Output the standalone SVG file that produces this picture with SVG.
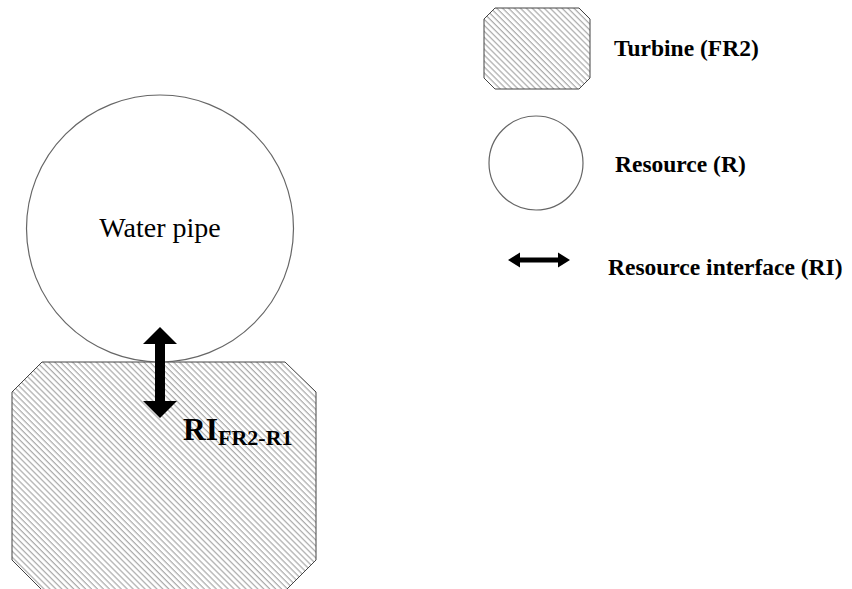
<svg xmlns="http://www.w3.org/2000/svg" width="852" height="589" viewBox="0 0 852 589">
  <defs>
    <pattern id="hatch" patternUnits="userSpaceOnUse" width="4.2" height="4.2" patternTransform="rotate(-45)">
      <line x1="1" y1="0" x2="1" y2="4.2" stroke="#8c8c8c" stroke-width="0.9"/>
    </pattern>
    <style>
      .turbine { fill: url(#hatch); stroke: #444; stroke-width: 1; }
      .res { fill: #fff; stroke: #666; stroke-width: 1.2; }
      .arrow { fill: #000; stroke: none; }
      .legend { font-family: "Liberation Serif", "Times New Roman", serif; font-weight: bold; font-size: 23.5px; fill: #000; }
      .lbl { font-family: "Liberation Serif", "Times New Roman", serif; fill: #000; }
    </style>
  </defs>
  <rect width="852" height="589" fill="#fff"/>

  <g id="turbine-fr2">
    <polygon class="turbine" points="42,362 285,362 316,392 316,560 286,590 42,590 12,560 12,392"/>
  </g>

  <g id="water-pipe">
    <circle class="res" cx="160" cy="228.5" r="133.5"/>
    <text class="lbl" x="160" y="237" font-size="28" text-anchor="middle">Water pipe</text>
  </g>

  <g id="connectors">
    <polygon class="arrow" points="160,327 177,344 165,344 165,401 177,401 160,418 143,401 155,401 155,344 143,344"/>
    <text class="lbl" x="183" y="440" font-size="31.5" font-weight="bold">RI<tspan font-size="22" dy="5">FR2-R1</tspan></text>
  </g>

  <g id="legend-turbine">
    <polygon class="turbine" points="495,8 579,8 590,19 590,78 579,89 495,89 484,78 484,19"/>
    <text class="legend" x="614" y="56">Turbine (FR2)</text>
  </g>

  <g id="legend-resource">
    <circle class="res" cx="536" cy="163" r="47"/>
    <text class="legend" x="615" y="172">Resource (R)</text>
  </g>

  <g id="legend-interface">
    <polygon class="arrow" points="508,260 520,252.5 520,257.5 558,257.5 558,252.5 570,260 558,267.5 558,262.5 520,262.5 520,267.5"/>
    <text class="legend" x="608" y="275" font-size="24">Resource interface (RI)</text>
  </g>
</svg>
